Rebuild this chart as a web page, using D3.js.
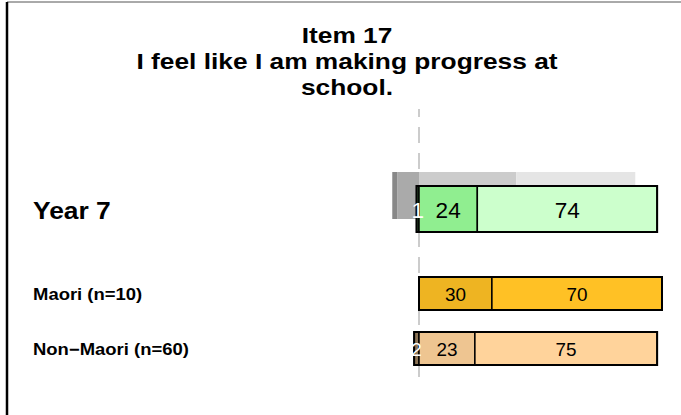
<!DOCTYPE html>
<html>
<head>
<meta charset="utf-8">
<script src="https://cdn.jsdelivr.net/npm/d3@7"></script>
<style>
  body { margin: 0; background: #fff; }
  svg { display: block; font-family: "Liberation Sans", Arial, sans-serif; }
</style>
</head>
<body>
<div id="chart"></div>
<script>
// data
const titleLines = ["Item 17", "I feel like I am making progress at", "school."];
const categories = ["Strongly disagree", "Disagree", "Agree", "Strongly agree"];
const groups = ["Year 7", "Maori (n=10)", "Non\u2212Maori (n=60)"];
const year7Values = [0, 1, 24, 74];
const maoriValues = [0, 0, 30, 70];
const nonMaoriValues = [0, 2, 23, 75];
const comparisonValues = [2, 9, 40, 49];

const groupValues = [year7Values, maoriValues, nonMaoriValues];
const groupColors = [
  ["#2f6f2f", "#548b54", "#90ee90", "#ccffcc"],
  ["#8b6914", "#cd9b1d", "#eeb422", "#ffc125"],
  ["#6b5535", "#8b7355", "#eec591", "#ffd39b"]
];
const comparisonColors = ["#888888", "#aaaaaa", "#cccccc", "#e5e5e5"];

const width = 681, height = 415;

const svg = d3.select("#chart")
  .append("svg")
  .attr("width", width)
  .attr("height", height);

// frame
svg.append("line").attr("x1", 7).attr("x2", width).attr("y1", 2).attr("y2", 2)
  .attr("stroke", "#555").attr("stroke-width", 1);
svg.append("line").attr("x1", 7).attr("x2", 7).attr("y1", 2).attr("y2", height)
  .attr("stroke", "#000").attr("stroke-width", 2.5);

// scales
const x = d3.scaleLinear().domain([0, 100]).range([419, 662]);
const yCenter = d3.scaleOrdinal().domain(groups).range([209, 293.5, 348.5]);
const barH = d3.scaleOrdinal().domain(groups).range([46, 33, 33]);
const labelSize = d3.scaleOrdinal().domain(groups).range([24, 16.5, 16.5]);
const labelStretch = d3.scaleOrdinal().domain(groups).range([1.1, 1.12, 1.12]);
const valueSize = d3.scaleOrdinal().domain(groups).range([21.5, 18, 18]);

// stack helper: the two disagree categories go left of zero
function segments(vals) {
  let start = -(vals[0] + vals[1]);
  return vals.map((v, i) => {
    const s = { cat: categories[i], i: i, v: v, x0: start, x1: start + v };
    start += v;
    return s;
  });
}

// title
titleLines.forEach((t, i) => {
  svg.append("text")
    .attr("transform", "translate(347," + (43 + i * 26) + ") scale(1.17,1)")
    .attr("text-anchor", "middle")
    .attr("font-size", 22.5)
    .attr("font-weight", "bold")
    .text(t);
});

// dashed zero line (behind bars)
svg.append("line")
  .attr("x1", x(0)).attr("x2", x(0))
  .attr("y1", 109).attr("y2", 383)
  .attr("stroke", "#999")
  .attr("stroke-width", 1)
  .attr("stroke-dasharray", "16,10")
  .attr("stroke-dashoffset", 8);

// comparison (shadow) bar for Year 7
const compY = yCenter(groups[0]) - barH(groups[0]) / 2 - 14;
svg.append("g").selectAll("rect")
  .data(segments(comparisonValues))
  .join("rect")
  .attr("x", d => x(d.x0))
  .attr("width", d => x(d.x1) - x(d.x0))
  .attr("y", compY)
  .attr("height", barH(groups[0]) + 1)
  .attr("fill", d => comparisonColors[d.i]);

// group bars
groups.forEach((g, gi) => {
  const segs = segments(groupValues[gi]).filter(d => d.v > 0);
  const h = barH(g), yc = yCenter(g);
  const row = svg.append("g");

  row.selectAll("rect")
    .data(segs)
    .join("rect")
    .attr("x", d => x(d.x0))
    .attr("width", d => x(d.x1) - x(d.x0))
    .attr("y", yc - h / 2)
    .attr("height", h)
    .attr("fill", d => groupColors[gi][d.i])
    .attr("stroke", "#000")
    .attr("stroke-width", 1.5);

  // outer border
  row.append("rect")
    .attr("x", x(d3.min(segs, d => d.x0)))
    .attr("width", x(d3.max(segs, d => d.x1)) - x(d3.min(segs, d => d.x0)))
    .attr("y", yc - h / 2)
    .attr("height", h)
    .attr("fill", "none")
    .attr("stroke", "#000")
    .attr("stroke-width", 2);

  const fs = valueSize(g);
  row.selectAll("text")
    .data(segs)
    .join("text")
    .attr("transform", d => "translate(" + ((x(d.x0) + x(d.x1)) / 2) + "," + (yc + fs * 0.36 + 1) + ") scale(1.05,1)")
    .attr("text-anchor", "middle")
    .attr("font-size", fs)
    .attr("fill", d => d.i < 2 ? "#fff" : "#000")
    .text(d => d.v);

  // row label
  svg.append("text")
    .attr("transform", "translate(33," + (yc + labelSize(g) * 0.36 + 1) + ") scale(" + labelStretch(g) + ",1)")
    .attr("font-size", labelSize(g))
    .attr("font-weight", "bold")
    .text(g);
});
</script>
</body>
</html>
